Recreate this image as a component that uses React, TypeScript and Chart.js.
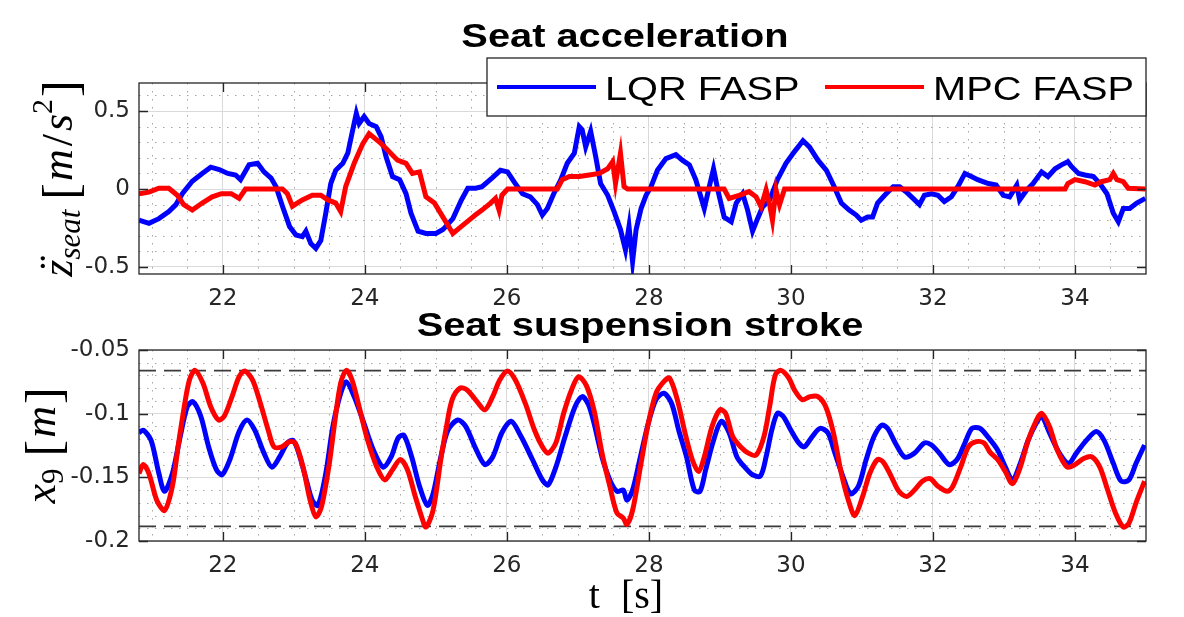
import React, { useEffect, useRef } from 'react';
import { Chart, registerables } from 'chart.js';

Chart.register(...registerables);

// ---------- axes ----------
const X_MIN = 20.82;
const X_MAX = 35;
const xTicks = [22, 24, 26, 28, 30, 32, 34];
const xTickLabels = ['22', '24', '26', '28', '30', '32', '34'];

const yRangeTop = [-0.545, 0.68];
const yTicksTop = [-0.5, 0, 0.5];
const yTickLabelsTop = ['-0.5', '0', '0.5'];

const yRangeBottom = [-0.2, -0.05];
const yTicksBottom = [-0.2, -0.15, -0.1, -0.05];
const yTickLabelsBottom = ['-0.2', '-0.15', '-0.1', '-0.05'];

const strokeLimits = [-0.0662, -0.1885];

const seriesNames = ['LQR FASP', 'MPC FASP'];

// ---------- seat acceleration ----------
const tLqrAcc = [20.82, 20.96, 21.10, 21.24, 21.34, 21.43, 21.57, 21.71, 21.83, 21.95, 22.07, 22.18, 22.25, 22.37, 22.49, 22.58, 22.68, 22.75, 22.84, 22.94, 23.03, 23.12, 23.17, 23.24, 23.31, 23.38, 23.45, 23.52, 23.59, 23.69, 23.76, 23.83, 23.88, 23.92, 23.99, 24.06, 24.16, 24.23, 24.30, 24.39, 24.49, 24.58, 24.65, 24.75, 24.86, 25.00, 25.10, 25.24, 25.36, 25.45, 25.56, 25.65, 25.79, 25.91, 26.01, 26.10, 26.22, 26.33, 26.43, 26.50, 26.57, 26.66, 26.76, 26.85, 26.95, 27.02, 27.06, 27.11, 27.18, 27.25, 27.32, 27.42, 27.51, 27.60, 27.67, 27.72, 27.77, 27.82, 27.89, 27.96, 28.03, 28.12, 28.24, 28.38, 28.47, 28.57, 28.66, 28.78, 28.85, 28.91, 28.97, 29.06, 29.16, 29.23, 29.32, 29.39, 29.46, 29.53, 29.60, 29.70, 29.81, 29.93, 30.05, 30.17, 30.26, 30.38, 30.50, 30.61, 30.71, 30.82, 30.92, 30.99, 31.08, 31.15, 31.22, 31.32, 31.44, 31.53, 31.62, 31.72, 31.81, 31.88, 31.98, 32.07, 32.16, 32.26, 32.35, 32.45, 32.54, 32.63, 32.78, 32.89, 32.99, 33.08, 33.18, 33.22, 33.32, 33.41, 33.53, 33.62, 33.72, 33.81, 33.90, 33.95, 34.05, 34.14, 34.26, 34.35, 34.45, 34.54, 34.61, 34.68, 34.77, 34.87, 34.99];
const lqrAcc = [-0.20, -0.22, -0.19, -0.145, -0.10, -0.03, 0.05, 0.10, 0.14, 0.125, 0.10, 0.09, 0.06, 0.155, 0.165, 0.11, 0.07, 0.015, -0.11, -0.24, -0.295, -0.305, -0.27, -0.35, -0.38, -0.33, -0.155, 0.035, 0.12, 0.165, 0.23, 0.38, 0.485, 0.42, 0.465, 0.42, 0.40, 0.335, 0.205, 0.08, 0.06, -0.03, -0.155, -0.27, -0.285, -0.285, -0.26, -0.19, -0.07, 0.005, 0.005, 0.015, 0.07, 0.12, 0.11, 0.047, -0.03, -0.05, -0.10, -0.167, -0.125, -0.03, 0.06, 0.165, 0.23, 0.40, 0.38, 0.27, 0.37, 0.21, 0.035, -0.04, -0.145, -0.26, -0.39, -0.24, -0.465, -0.26, -0.125, -0.04, 0.015, 0.12, 0.195, 0.22, 0.185, 0.155, 0.06, -0.125, 0.015, 0.13, -0.005, -0.18, -0.21, -0.09, -0.03, -0.135, -0.27, -0.19, -0.115, -0.07, 0.06, 0.165, 0.24, 0.31, 0.27, 0.185, 0.12, 0.015, -0.09, -0.135, -0.167, -0.20, -0.18, -0.18, -0.09, -0.04, 0.015, 0.015, -0.017, -0.06, -0.10, -0.04, -0.03, -0.04, -0.08, -0.05, 0.015, 0.10, 0.08, 0.06, 0.035, 0.025, -0.04, -0.05, 0.025, -0.07, -0.006, 0.035, 0.11, 0.08, 0.13, 0.155, 0.175, 0.145, 0.10, 0.09, 0.08, 0.035, -0.03, -0.155, -0.21, -0.125, -0.125, -0.09, -0.06];

const tMpcAcc = [20.82, 20.96, 21.10, 21.24, 21.36, 21.45, 21.57, 21.71, 21.85, 21.98, 22.12, 22.23, 22.32, 22.84, 22.91, 22.98, 23.12, 23.26, 23.38, 23.48, 23.59, 23.66, 23.73, 23.85, 23.97, 24.06, 24.21, 24.32, 24.46, 24.58, 24.67, 24.77, 24.86, 24.98, 25.10, 25.24, 25.36, 25.52, 25.56, 25.65, 25.77, 25.84, 25.89, 25.93, 26.01, 26.71, 26.78, 26.88, 27.02, 27.16, 27.30, 27.42, 27.49, 27.53, 27.60, 27.65, 27.70, 29.06, 29.13, 29.27, 29.41, 29.51, 29.58, 29.65, 29.70, 29.74, 29.79, 29.84, 29.91, 33.86, 33.90, 34.00, 34.14, 34.28, 34.37, 34.49, 34.54, 34.59, 34.68, 34.75, 34.99];
const mpcAcc = [-0.03, -0.02, 0.005, 0.005, -0.04, -0.10, -0.135, -0.09, -0.05, -0.03, -0.03, -0.06, 0.0, 0.0, -0.03, -0.11, -0.07, -0.04, -0.04, -0.07, -0.09, -0.145, 0.015, 0.165, 0.29, 0.355, 0.30, 0.25, 0.185, 0.165, 0.10, 0.11, -0.05, -0.09, -0.18, -0.285, -0.24, -0.18, -0.165, -0.135, -0.09, -0.06, -0.135, -0.04, 0.0, 0.0, 0.06, 0.08, 0.08, 0.09, 0.10, 0.13, 0.175, 0.035, 0.23, 0.015, 0.0, 0.0, -0.06, -0.04, -0.017, -0.05, -0.115, -0.005, -0.10, -0.20, -0.005, -0.10, 0.0, 0.0, 0.035, 0.06, 0.047, 0.025, 0.047, 0.06, 0.10, 0.06, 0.047, 0.005, 0.0];

// ---------- seat suspension stroke ----------
const tLqrStroke = [20.82, 20.88, 20.99, 21.10, 21.18, 21.29, 21.40, 21.50, 21.58, 21.69, 21.80, 21.91, 21.99, 22.10, 22.23, 22.34, 22.45, 22.58, 22.69, 22.80, 22.91, 22.99, 23.07, 23.18, 23.26, 23.34, 23.45, 23.55, 23.66, 23.74, 23.85, 23.99, 24.12, 24.26, 24.37, 24.47, 24.55, 24.66, 24.77, 24.88, 24.96, 25.07, 25.17, 25.31, 25.42, 25.55, 25.69, 25.80, 25.93, 26.06, 26.20, 26.36, 26.50, 26.58, 26.69, 26.82, 26.96, 27.06, 27.15, 27.23, 27.34, 27.45, 27.55, 27.64, 27.69, 27.77, 27.88, 27.99, 28.10, 28.21, 28.32, 28.42, 28.53, 28.64, 28.72, 28.80, 28.91, 29.02, 29.13, 29.24, 29.35, 29.46, 29.57, 29.65, 29.73, 29.81, 29.89, 30.00, 30.11, 30.19, 30.30, 30.41, 30.52, 30.62, 30.73, 30.84, 30.95, 31.06, 31.17, 31.28, 31.36, 31.47, 31.60, 31.74, 31.88, 31.98, 32.09, 32.23, 32.34, 32.45, 32.55, 32.66, 32.77, 32.91, 33.02, 33.12, 33.23, 33.34, 33.45, 33.53, 33.64, 33.78, 33.91, 34.02, 34.16, 34.30, 34.41, 34.54, 34.65, 34.76, 34.86, 34.98];
const lqrStroke = [-0.115, -0.113, -0.121, -0.147, -0.161, -0.147, -0.118, -0.0945, -0.0906, -0.102, -0.126, -0.144, -0.148, -0.136, -0.114, -0.105, -0.113, -0.131, -0.142, -0.134, -0.123, -0.121, -0.131, -0.153, -0.168, -0.172, -0.147, -0.110, -0.084, -0.075, -0.0866, -0.108, -0.1285, -0.142, -0.134, -0.119, -0.117, -0.134, -0.157, -0.172, -0.163, -0.134, -0.113, -0.105, -0.110, -0.126, -0.140, -0.134, -0.115, -0.106, -0.118, -0.136, -0.152, -0.156, -0.142, -0.118, -0.0945, -0.0866, -0.093, -0.108, -0.134, -0.152, -0.161, -0.160, -0.168, -0.160, -0.134, -0.108, -0.089, -0.084, -0.092, -0.113, -0.134, -0.160, -0.161, -0.144, -0.121, -0.106, -0.115, -0.134, -0.142, -0.148, -0.149, -0.134, -0.113, -0.0997, -0.102, -0.113, -0.123, -0.126, -0.118, -0.1115, -0.115, -0.131, -0.149, -0.163, -0.157, -0.136, -0.118, -0.109, -0.1115, -0.123, -0.134, -0.131, -0.123, -0.1246, -0.131, -0.140, -0.136, -0.123, -0.1115, -0.1115, -0.118, -0.1285, -0.142, -0.152, -0.139, -0.121, -0.108, -0.102, -0.115, -0.131, -0.139, -0.131, -0.121, -0.114, -0.121, -0.139, -0.153, -0.152, -0.139, -0.1246];

const tMpcStroke = [20.82, 20.88, 20.96, 21.07, 21.18, 21.29, 21.37, 21.45, 21.53, 21.61, 21.72, 21.83, 21.94, 22.02, 22.13, 22.23, 22.31, 22.42, 22.53, 22.64, 22.72, 22.83, 22.94, 23.02, 23.13, 23.23, 23.31, 23.39, 23.50, 23.58, 23.66, 23.74, 23.82, 23.93, 24.04, 24.17, 24.28, 24.39, 24.50, 24.60, 24.71, 24.80, 24.86, 24.96, 25.07, 25.15, 25.23, 25.34, 25.44, 25.58, 25.69, 25.80, 25.90, 26.01, 26.12, 26.26, 26.39, 26.50, 26.58, 26.69, 26.80, 26.91, 27.01, 27.12, 27.23, 27.34, 27.45, 27.55, 27.64, 27.69, 27.77, 27.88, 27.99, 28.10, 28.21, 28.29, 28.40, 28.51, 28.61, 28.70, 28.78, 28.89, 29.00, 29.08, 29.18, 29.29, 29.40, 29.51, 29.62, 29.70, 29.78, 29.86, 29.97, 30.05, 30.16, 30.27, 30.38, 30.49, 30.60, 30.71, 30.82, 30.90, 31.01, 31.11, 31.22, 31.30, 31.41, 31.52, 31.63, 31.74, 31.85, 31.96, 32.07, 32.20, 32.28, 32.39, 32.50, 32.61, 32.72, 32.80, 32.91, 33.02, 33.12, 33.23, 33.34, 33.45, 33.53, 33.64, 33.75, 33.89, 34.00, 34.13, 34.24, 34.35, 34.46, 34.57, 34.68, 34.76, 34.86, 34.98];
const mpcStroke = [-0.147, -0.140, -0.147, -0.168, -0.176, -0.157, -0.126, -0.097, -0.0736, -0.066, -0.076, -0.0945, -0.105, -0.102, -0.0866, -0.071, -0.0665, -0.0736, -0.092, -0.113, -0.126, -0.126, -0.122, -0.123, -0.142, -0.168, -0.181, -0.173, -0.139, -0.105, -0.076, -0.066, -0.0736, -0.097, -0.121, -0.142, -0.152, -0.144, -0.136, -0.144, -0.165, -0.181, -0.189, -0.176, -0.136, -0.110, -0.089, -0.080, -0.0814, -0.0906, -0.097, -0.0866, -0.0736, -0.0665, -0.0736, -0.092, -0.113, -0.126, -0.131, -0.123, -0.0997, -0.0814, -0.071, -0.078, -0.098, -0.131, -0.157, -0.178, -0.182, -0.187, -0.176, -0.142, -0.108, -0.084, -0.0749, -0.072, -0.089, -0.1154, -0.136, -0.1455, -0.134, -0.110, -0.097, -0.0997, -0.118, -0.126, -0.131, -0.1325, -0.118, -0.0945, -0.0696, -0.066, -0.072, -0.0814, -0.089, -0.0866, -0.0866, -0.0945, -0.1154, -0.147, -0.170, -0.180, -0.165, -0.147, -0.136, -0.138, -0.149, -0.161, -0.165, -0.160, -0.153, -0.151, -0.157, -0.161, -0.157, -0.142, -0.126, -0.122, -0.123, -0.130, -0.136, -0.1455, -0.155, -0.142, -0.121, -0.106, -0.0997, -0.110, -0.1285, -0.142, -0.140, -0.135, -0.134, -0.142, -0.160, -0.178, -0.189, -0.186, -0.170, -0.153];

// ---------- styling ----------
const BLUE = '#0000ff';
const RED = '#ff0000';
const AXIS = '#262626';
const MAJOR_GRID = '#dadada';
const MINOR_GRID = '#a6a6a6';
const SANS = '"Liberation Sans", Arial, Helvetica, sans-serif';
const TICK_FONT = '"DejaVu Sans", sans-serif';
const SERIF = '"Liberation Serif", "Times New Roman", serif';
const STRETCH = 1.17;

const pts = (ts: number[], vs: number[]) => ts.map((t, i) => ({ x: t, y: vs[i] }));

type Part = { text: string; font: string; dy?: number; gap?: number; dia?: boolean };

function drawParts(ctx: CanvasRenderingContext2D, parts: Part[], startX: number) {
  let x = startX;
  for (const p of parts) {
    ctx.font = p.font;
    const w = ctx.measureText(p.text).width;
    ctx.fillText(p.text, x, p.dy || 0);
    if (p.dia) {
      const dw = ctx.measureText('\u00A8').width;
      ctx.fillText('\u00A8', x + (w - dw) / 2 + 3, -2);
    }
    x += w + (p.gap || 0);
  }
}

function partsWidth(ctx: CanvasRenderingContext2D, parts: Part[]) {
  let total = 0;
  for (const p of parts) {
    ctx.font = p.font;
    total += ctx.measureText(p.text).width + (p.gap || 0);
  }
  return total;
}

function stretchedText(ctx: CanvasRenderingContext2D, text: string, font: string, x: number, y: number, align: 'left' | 'center') {
  ctx.save();
  ctx.font = font;
  const w = ctx.measureText(text).width * STRETCH;
  const x0 = align === 'center' ? x - w / 2 : x;
  ctx.translate(x0, y);
  ctx.scale(STRETCH, 1);
  ctx.textAlign = 'left';
  ctx.textBaseline = 'alphabetic';
  ctx.fillText(text, 0, 0);
  ctx.restore();
}

type DecorCfg = {
  name: string;
  minorY: number;
  yTicks: number[];
  title: string;
  titleX: number;
  titleBaseline: number;
  legend: boolean;
  yLabel: Part[];
  yLabelBaseX: number;
  xLabel?: Part[];
  xLabelCenter?: number;
  xLabelBaseline?: number;
};

function makeDecor(cfg: DecorCfg) {
  return {
    id: 'decor_' + cfg.name,
    beforeDatasetsDraw(chart: any) {
      const { ctx, chartArea: a, scales } = chart;
      const xs = scales.x;
      const ys = scales.y;
      ctx.save();
      ctx.beginPath();
      ctx.rect(a.left, a.top, a.right - a.left, a.bottom - a.top);
      ctx.clip();
      ctx.strokeStyle = MINOR_GRID;
      ctx.lineWidth = 1;
      ctx.setLineDash([1.5, 6.5]);
      const stepX = 0.5;
      for (let k = Math.ceil(xs.min / stepX - 1e-9); k * stepX <= xs.max + 1e-9; k++) {
        const v = k * stepX;
        if (xTicks.some((t) => Math.abs(t - v) < 1e-6)) continue;
        const px = Math.round(xs.getPixelForValue(v)) + 0.5;
        ctx.beginPath();
        ctx.moveTo(px, a.top);
        ctx.lineTo(px, a.bottom);
        ctx.stroke();
      }
      const sy = cfg.minorY;
      for (let k = Math.ceil(ys.min / sy - 1e-9); k * sy <= ys.max + 1e-9; k++) {
        const v = k * sy;
        if (cfg.yTicks.some((t) => Math.abs(t - v) < 1e-6)) continue;
        const py = Math.round(ys.getPixelForValue(v)) + 0.5;
        ctx.beginPath();
        ctx.moveTo(a.left, py);
        ctx.lineTo(a.right, py);
        ctx.stroke();
      }
      ctx.restore();
    },
    afterDatasetsDraw(chart: any) {
      const { ctx, chartArea: a, scales } = chart;
      ctx.save();
      ctx.strokeStyle = AXIS;
      ctx.lineWidth = 1.3;
      ctx.strokeRect(a.left, a.top, a.right - a.left, a.bottom - a.top);
      const TL = 9;
      ctx.beginPath();
      for (const t of xTicks) {
        const px = Math.round(scales.x.getPixelForValue(t)) + 0.5;
        ctx.moveTo(px, a.bottom);
        ctx.lineTo(px, a.bottom - TL);
        ctx.moveTo(px, a.top);
        ctx.lineTo(px, a.top + TL);
      }
      for (const t of cfg.yTicks) {
        const py = Math.round(scales.y.getPixelForValue(t)) + 0.5;
        ctx.moveTo(a.left, py);
        ctx.lineTo(a.left + TL, py);
        ctx.moveTo(a.right, py);
        ctx.lineTo(a.right - TL, py);
      }
      ctx.stroke();
      ctx.restore();
    },
    afterDraw(chart: any) {
      const { ctx, chartArea: a } = chart;
      ctx.save();
      ctx.fillStyle = '#000';
      // title
      stretchedText(ctx, cfg.title, 'bold 34px ' + SANS, cfg.titleX, cfg.titleBaseline, 'center');

      // legend
      if (cfg.legend) {
        const W = 659;
        const H = 58;
        const L = a.right - W;
        const T = a.top - 25;
        ctx.fillStyle = '#fff';
        ctx.fillRect(L, T, W, H);
        ctx.strokeStyle = AXIS;
        ctx.lineWidth = 1.3;
        ctx.strokeRect(L, T, W, H);
        const offsets = [10, 338];
        const items = chart.data.datasets.filter((d: any) => seriesNames.includes(d.label));
        items.sort((p: any, q: any) => seriesNames.indexOf(p.label) - seriesNames.indexOf(q.label));
        items.forEach((d: any, i: number) => {
          const x0 = L + offsets[i];
          const ly = T + 29;
          ctx.strokeStyle = d.borderColor;
          ctx.lineWidth = 4;
          ctx.beginPath();
          ctx.moveTo(x0, ly);
          ctx.lineTo(x0 + 99, ly);
          ctx.stroke();
          ctx.fillStyle = '#000';
          stretchedText(ctx, d.label, '34px ' + SANS, x0 + 108, T + 42, 'left');
        });
      }

      // y label (rotated)
      ctx.fillStyle = '#000';
      ctx.save();
      const cy = (a.top + a.bottom) / 2;
      ctx.translate(cfg.yLabelBaseX, cy);
      ctx.rotate(-Math.PI / 2);
      ctx.textBaseline = 'alphabetic';
      ctx.textAlign = 'left';
      const tw = partsWidth(ctx, cfg.yLabel);
      drawParts(ctx, cfg.yLabel, -tw / 2);
      ctx.restore();

      // x label
      if (cfg.xLabel && cfg.xLabelCenter !== undefined && cfg.xLabelBaseline !== undefined) {
        ctx.save();
        ctx.textBaseline = 'alphabetic';
        ctx.textAlign = 'left';
        const w = partsWidth(ctx, cfg.xLabel);
        ctx.translate(0, cfg.xLabelBaseline);
        drawParts(ctx, cfg.xLabel, cfg.xLabelCenter - w / 2);
        ctx.restore();
      }
      ctx.restore();
    },
  };
}

function makeConfig(opts: {
  datasets: any[];
  yRange: number[];
  yTicks: number[];
  yLabels: string[];
  padTop: number;
  xAxisHeight: number;
  decor: any;
}) {
  return {
    type: 'line' as const,
    data: { datasets: opts.datasets },
    options: {
      animation: false as const,
      responsive: false,
      devicePixelRatio: 1,
      parsing: false as const,
      normalized: true,
      events: [],
      layout: { padding: { left: 0, right: 38, top: opts.padTop, bottom: 0 } },
      plugins: {
        legend: { display: false },
        tooltip: { enabled: false },
        title: { display: false },
      },
      scales: {
        x: {
          type: 'linear' as const,
          min: X_MIN,
          max: X_MAX,
          afterBuildTicks: (s: any) => {
            s.ticks = xTicks.map((v) => ({ value: v }));
          },
          afterFit: (s: any) => {
            s.height = opts.xAxisHeight;
          },
          ticks: {
            autoSkip: false,
            maxRotation: 0,
            padding: 11,
            color: AXIS,
            font: { family: TICK_FONT, size: 23 },
            callback: (v: any) => {
              const i = xTicks.findIndex((t) => Math.abs(t - v) < 1e-9);
              return i >= 0 ? xTickLabels[i] : '';
            },
          },
          grid: { color: MAJOR_GRID, lineWidth: 1, drawTicks: false },
          border: { display: false },
        },
        y: {
          type: 'linear' as const,
          min: opts.yRange[0],
          max: opts.yRange[1],
          afterBuildTicks: (s: any) => {
            s.ticks = opts.yTicks.map((v) => ({ value: v }));
          },
          afterFit: (s: any) => {
            s.width = 139;
          },
          ticks: {
            autoSkip: false,
            padding: 9,
            color: AXIS,
            font: { family: TICK_FONT, size: 23 },
            callback: (v: any) => {
              const i = opts.yTicks.findIndex((t) => Math.abs(t - v) < 1e-9);
              return i >= 0 ? opts.yLabels[i] : '';
            },
          },
          grid: { color: MAJOR_GRID, lineWidth: 1, drawTicks: false },
          border: { display: false },
        },
      },
    },
    plugins: [opts.decor],
  };
}

export default function App() {
  const topRef = useRef<HTMLCanvasElement>(null);
  const botRef = useRef<HTMLCanvasElement>(null);

  useEffect(() => {
    const topDecor = makeDecor({
      name: 'acc',
      minorY: 0.1,
      yTicks: yTicksTop,
      title: 'Seat acceleration',
      titleX: 625,
      titleBaseline: 47,
      legend: true,
      yLabelBaseX: 72,
      yLabel: [
        { text: 'z', font: 'italic 44px ' + SERIF, dia: true },
        { text: 'seat', font: 'italic 31px ' + SERIF, dy: 8, gap: 10 },
        { text: '[', font: '50px ' + SERIF, dy: 5, gap: 2 },
        { text: 'm', font: 'italic 44px ' + SERIF, gap: 3 },
        { text: '/', font: '44px ' + SERIF, gap: 3 },
        { text: 's', font: 'italic 44px ' + SERIF },
        { text: '2', font: '30px ' + SERIF, dy: -20, gap: 2 },
        { text: ']', font: '50px ' + SERIF, dy: 5 },
      ],
    });
    const botDecor = makeDecor({
      name: 'stroke',
      minorY: 0.01,
      yTicks: yTicksBottom,
      title: 'Seat suspension stroke',
      titleX: 640,
      titleBaseline: 36,
      legend: false,
      yLabelBaseX: 55,
      yLabel: [
        { text: 'x', font: 'italic 44px ' + SERIF },
        { text: '9', font: '31px ' + SERIF, dy: 8, gap: 12 },
        { text: '[', font: '50px ' + SERIF, dy: 5, gap: 2 },
        { text: 'm', font: 'italic 44px ' + SERIF, gap: 2 },
        { text: ']', font: '50px ' + SERIF, dy: 5 },
      ],
      xLabel: [
        { text: 't', font: '40px ' + SERIF, gap: 21 },
        { text: '[s]', font: '40px ' + SERIF },
      ],
      xLabelCenter: 626,
      xLabelBaseline: 308,
    });

    const topCfg = makeConfig({
      datasets: [
        { label: seriesNames[1], data: pts(tMpcAcc, mpcAcc), borderColor: RED, borderWidth: 5, pointRadius: 0, tension: 0, order: 0 },
        { label: seriesNames[0], data: pts(tLqrAcc, lqrAcc), borderColor: BLUE, borderWidth: 5, pointRadius: 0, tension: 0, order: 1 },
      ],
      yRange: yRangeTop,
      yTicks: yTicksTop,
      yLabels: yTickLabelsTop,
      padTop: 83,
      xAxisHeight: 46,
      decor: topDecor,
    });

    const botCfg = makeConfig({
      datasets: [
        { label: seriesNames[1], data: pts(tMpcStroke, mpcStroke), borderColor: RED, borderWidth: 5, pointRadius: 0, tension: 0.3, order: 0 },
        { label: seriesNames[0], data: pts(tLqrStroke, lqrStroke), borderColor: BLUE, borderWidth: 5, pointRadius: 0, tension: 0.3, order: 1 },
        { label: 'upper limit', data: [{ x: X_MIN, y: strokeLimits[0] }, { x: X_MAX, y: strokeLimits[0] }], borderColor: '#3a3a3a', borderWidth: 1.6, borderDash: [17, 8], pointRadius: 0, order: 2 },
        { label: 'lower limit', data: [{ x: X_MIN, y: strokeLimits[1] }, { x: X_MAX, y: strokeLimits[1] }], borderColor: '#3a3a3a', borderWidth: 1.6, borderDash: [17, 8], pointRadius: 0, order: 2 },
      ],
      yRange: yRangeBottom,
      yTicks: yTicksBottom,
      yLabels: yTickLabelsBottom,
      padTop: 50,
      xAxisHeight: 76,
      decor: botDecor,
    });

    const c1 = new Chart(topRef.current as HTMLCanvasElement, topCfg as any);
    const c2 = new Chart(botRef.current as HTMLCanvasElement, botCfg as any);
    return () => {
      c1.destroy();
      c2.destroy();
    };
  }, []);

  return (
    <div style={{ position: 'fixed', left: 0, top: 0, width: 1184, height: 617, background: '#fff', overflow: 'hidden' }}>
      <canvas ref={topRef} width={1184} height={320} style={{ position: 'absolute', left: 0, top: 0, width: 1184, height: 320 }} />
      <canvas ref={botRef} width={1184} height={317} style={{ position: 'absolute', left: 0, top: 300, width: 1184, height: 317 }} />
    </div>
  );
}
